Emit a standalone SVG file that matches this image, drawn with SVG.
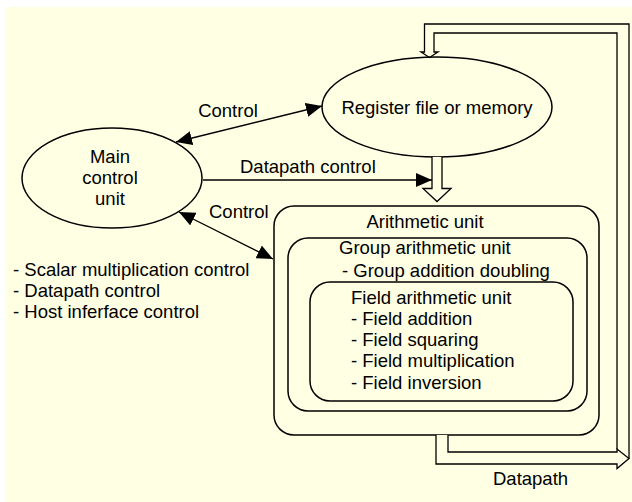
<svg xmlns="http://www.w3.org/2000/svg" width="632" height="502" viewBox="0 0 632 502">
<style>
text{font-family:"Liberation Sans",Arial,sans-serif;font-size:18.5px;fill:#000}
.n{fill:#FFFFE3;stroke:#000;stroke-width:1.5}
.b{fill:#FFFFE3;stroke:#000;stroke-width:1.3}
.c{fill:none;stroke:#000;stroke-width:1.3}
.m{text-anchor:middle}
</style>
<defs>
<marker id="ah" viewBox="0 0 16 14" refX="16" refY="7" markerWidth="16" markerHeight="14" markerUnits="userSpaceOnUse" orient="auto-start-reverse">
<path d="M0,0 L16,7 L0,14 Z" fill="#000"/>
</marker>
</defs>
<rect x="0" y="0" width="632" height="502" fill="#fff"/>
<rect x="6" y="7" width="626" height="495" fill="#FFFFE3"/>

<g id="arithmetic-unit">
<rect class="n" x="274" y="206" width="325" height="229" rx="20" ry="20"/>
<text class="m" x="425" y="228">Arithmetic unit</text>
</g>
<g id="group-arithmetic-unit">
<rect class="n" x="288" y="238" width="299" height="173" rx="20" ry="20"/>
<text x="339" y="254">Group arithmetic unit</text>
<text x="342" y="276.5">- Group addition doubling</text>
</g>
<g id="field-arithmetic-unit">
<rect class="n" x="310" y="282" width="263" height="119" rx="20" ry="20"/>
<text x="351" y="303.5">Field arithmetic unit</text>
<text x="351" y="324.8">- Field addition</text>
<text x="351" y="346">- Field squaring</text>
<text x="351" y="367.3">- Field multiplication</text>
<text x="351" y="388.6">- Field inversion</text>
</g>
<g id="register-file">
<ellipse class="n" cx="437" cy="107" rx="115" ry="50"/>
<text class="m" x="437" y="114">Register file or memory</text>
</g>
<g id="main-control-unit">
<ellipse class="n" cx="112" cy="178" rx="90" ry="50"/>
<text class="m" x="110" y="162.5">Main</text>
<text class="m" x="110" y="184">control</text>
<text class="m" x="110" y="205">unit</text>
</g>
<g id="control-notes">
<text x="13" y="275.5">- Scalar multiplication control</text>
<text x="13" y="296.5">- Datapath control</text>
<text x="13" y="317.5">- Host inferface control</text>
</g>

<g id="connectors">
<line class="c" x1="176" y1="142" x2="322" y2="106" marker-start="url(#ah)" marker-end="url(#ah)"/>
<text class="m" x="228" y="117">Control</text>
<line class="c" x1="203" y1="180" x2="432" y2="180" marker-end="url(#ah)"/>
<text x="240" y="172.5">Datapath control</text>
<line class="c" x1="179" y1="212" x2="273" y2="259" marker-start="url(#ah)" marker-end="url(#ah)"/>
<text x="209" y="217.5">Control</text>
<path class="b" d="M432,157 V188.5 H423 L437,201.5 L451,188.5 H442 V157"/>
<path class="b" d="M436,435 V464 H617 V468.5 L629,458.5 L617,449 V452 H448 V435"/>
<path class="c" d="M629,458.5 V24 H424.5 V52 H421 L429.5,57.5 L438,52 H434 V33 H617 V449"/>
<text x="493" y="485">Datapath</text>
</g>
</svg>
